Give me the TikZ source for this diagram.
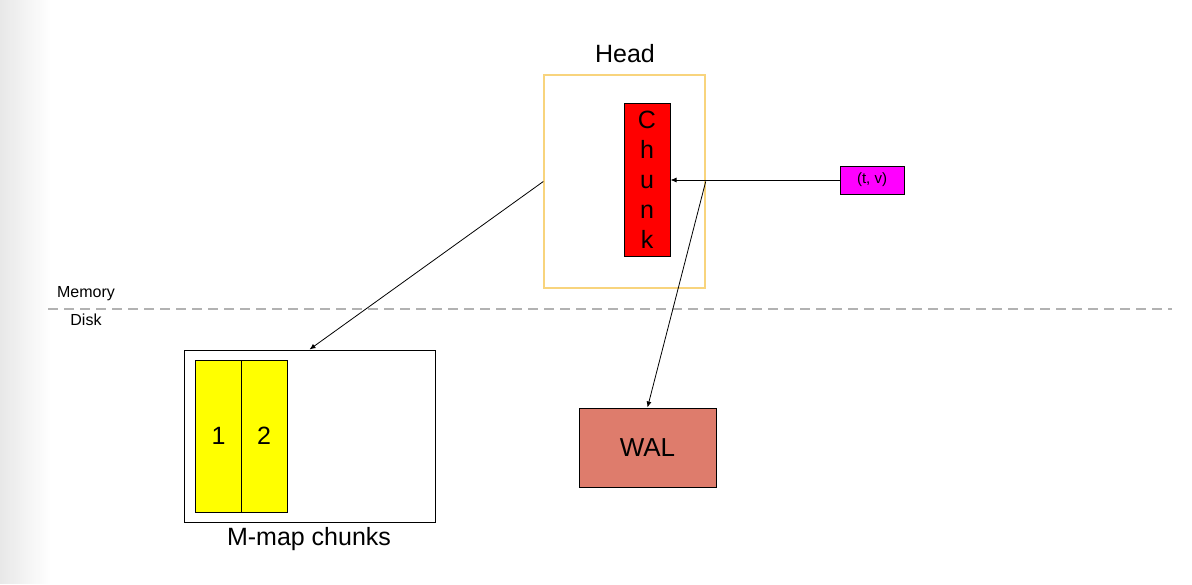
\documentclass[tikz,border=0pt]{standalone}
\usepackage{fontspec}
\setmainfont{Liberation Sans}
\usepackage{tikz}
\usetikzlibrary{arrows.meta, positioning}
\definecolor{headline}{RGB}{248,212,125}
\definecolor{walfill}{RGB}{222,124,108}
\definecolor{tvfill}{RGB}{255,0,255}
\definecolor{mfill}{RGB}{255,255,0}
\definecolor{chunkfill}{RGB}{255,0,0}
\definecolor{shadowgray}{RGB}{232,232,232}
\tikzset{%
  box/.style={rectangle, draw, line width=1pt, inner sep=0pt, text centered},
  chunkbox/.style={box, fill=chunkfill, font=\fontsize{25}{30}\selectfont, align=center},
  mchunk/.style={box, fill=mfill, minimum width=46pt, minimum height=152pt, font=\fontsize{25}{28}\selectfont},
  label/.style={font=\fontsize{25}{28}\selectfont},
  smalltext/.style={font=\fontsize{16}{18}\selectfont},
  line/.style={draw, line width=0.8pt, -{Latex[length=6pt, width=5pt]}}}

\begin{document}
\begin{tikzpicture}[x=1pt, y=-1pt]
    \useasboundingbox (0, 0) rectangle (1192, 584);
    % shadow on the left edge
    \foreach \i in {0, ..., 24} {
      \pgfmathtruncatemacro{\amount}{100 - 4 * \i}
      \fill [shadowgray!\amount!white] (2 * \i, 0) rectangle (2 * \i + 2.2, 584);
    }

    % memory side
    \node [box, draw=headline, line width=1.4pt, minimum width=161pt, minimum height=213pt] (head) at (624.5, 181.5) {};
    \node [label] (headlabel) at (625, 54) {Head};
    \node [chunkbox, minimum width=46pt, minimum height=153pt] (chunk) at (647, 179.5) {C\\h\\u\\n\\k};
    \node [box, fill=tvfill, minimum width=64pt, minimum height=28pt, font=\fontsize{15}{17}\selectfont] (tv) at (872, 180) {(t, v)};

    % memory / disk border
    \draw [gray!60, line width=1.2pt, dash pattern=on 10pt off 6pt] (48, 309) -- (1172, 309);
    \node [smalltext] (memory) at (86, 294) {Memory};
    \node [smalltext] (disk) at (86, 320) {Disk};

    % disk side
    \node [box, minimum width=251pt, minimum height=172pt] (mmap) at (309.5, 436) {};
    \node [mchunk] (mone) at (218.5, 436) {1};
    \node [mchunk] (mtwo) at (264, 436) {2};
    \node [label] (mmaplabel) at (309, 539) {M-map chunks};
    \node [box, fill=walfill, minimum width=137pt, minimum height=79pt, font=\fontsize{26}{29}\selectfont] (wal) at (647.5, 447.5) {WAL};

    % connectors
    \path [line] (tv.west) -- (tv.west -| chunk.east);
    \path [line] (head.east) -- (wal.north);
    \path [line] (head.west) -- (mmap.north);
\end{tikzpicture}
\end{document}
